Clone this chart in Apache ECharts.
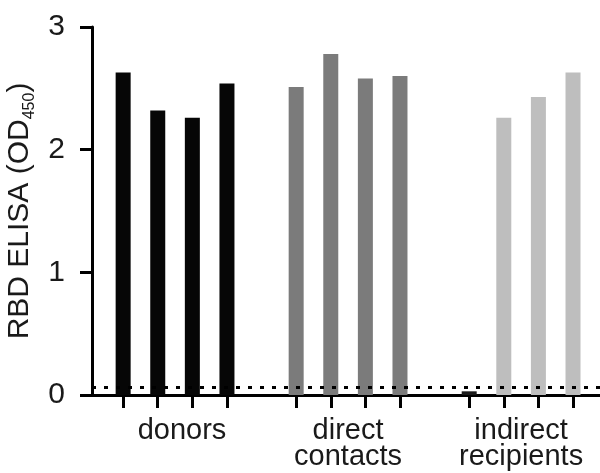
<!DOCTYPE html>
<html>
<head>
<meta charset="utf-8">
<script src="https://cdn.jsdelivr.net/npm/echarts@6/dist/echarts.min.js"></script>
<style>
html, body { margin: 0; padding: 0; background: #fff; }
#chart { width: 600px; height: 473px; }
</style>
</head>
<body>
<div id="chart"></div>
<script>
// values (OD450)
var groupNames = ['donors', 'direct\ncontacts', 'indirect\nrecipients'];
var donors = [2.63, 2.32, 2.26, 2.54];
var directContacts = [2.51, 2.78, 2.58, 2.60];
var indirectRecipients = [0.03, 2.26, 2.43, 2.63];
var cutoff = 0.055;
var yTicks = [0, 1, 2, 3];

var groups = [donors, directContacts, indirectRecipients];
var groupColors = ['#060606', '#7b7b7b', '#bebebe'];
var slotsPerGroup = 5; // 4 animals + 1 empty slot
var labelShift = [0.2, 0, 0]; // "donors" sits a bit right of its group centre

var barData = [], tickVals = [], labelVals = [];
groups.forEach(function (vals, g) {
    vals.forEach(function (v, i) {
        var x = g * slotsPerGroup + i;
        tickVals.push(x);
        barData.push({
            value: [x, v],
            itemStyle: { color: v < 0.1 ? '#1a1a1a' : groupColors[g] }
        });
    });
    labelVals.push(g * slotsPerGroup + 1.5 + labelShift[g]);
});

var font = 'Liberation Sans, Arial, Helvetica, sans-serif';
var chart = echarts.init(document.getElementById('chart'));

chart.setOption({
    backgroundColor: '#fff',
    animation: false,
    grid: { left: 92, right: 0, top: 27, bottom: 78, outerBoundsMode: 'none' },
    xAxis: {
        type: 'value',
        min: -0.9,
        max: 13.78,
        splitLine: { show: false },
        axisLine: { show: true, onZero: true, lineStyle: { color: '#000', width: 3 } },
        axisTick: {
            show: true,
            customValues: tickVals,
            length: 13,
            lineStyle: { color: '#000', width: 3 }
        },
        axisLabel: {
            show: true,
            customValues: labelVals,
            formatter: function (v) {
                return groupNames[Math.floor(v / slotsPerGroup)];
            },
            fontFamily: font,
            fontSize: 29,
            lineHeight: 26,
            color: '#1a1a1a',
            margin: 23
        }
    },
    yAxis: {
        type: 'value',
        min: 0,
        max: 3,
        interval: 1,
        splitLine: { show: false },
        axisLine: { show: true, onZero: false, lineStyle: { color: '#000', width: 3 } },
        axisTick: { show: true, length: 12, lineStyle: { color: '#000', width: 3 } },
        axisLabel: {
            fontFamily: font,
            fontSize: 30,
            color: '#1a1a1a',
            margin: 27,
            customValues: yTicks
        },
        name: '{a|RBD ELISA (OD}{s|450}{a|)}',
        nameLocation: 'middle',
        nameRotate: 90,
        nameGap: 46,
        nameTextStyle: {
            fontFamily: font,
            color: '#1a1a1a',
            rich: {
                a: { fontFamily: font, fontSize: 30, color: '#1a1a1a', lineHeight: 30 },
                s: { fontFamily: font, fontSize: 16, color: '#1a1a1a', lineHeight: 36, verticalAlign: 'bottom' }
            }
        }
    },
    series: [{
        type: 'bar',
        barWidth: 15,
        data: barData,
        markLine: {
            silent: true,
            symbol: ['none', 'none'],
            label: { show: false },
            lineStyle: { color: '#000', width: 3, type: [4, 8] },
            data: [{ yAxis: cutoff }]
        }
    }]
});
</script>
</body>
</html>
